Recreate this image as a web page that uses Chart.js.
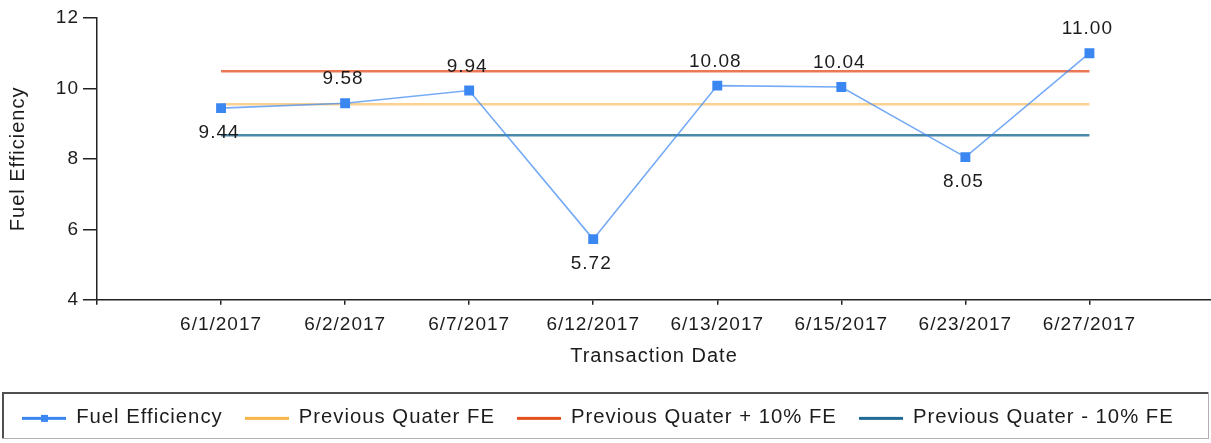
<!DOCTYPE html>
<html>
<head>
<meta charset="utf-8">
<script src="https://cdn.jsdelivr.net/npm/chart.js@4"></script>
<style>
  html, body { margin: 0; padding: 0; background: #fff; }
  #wrap { width: 1211px; height: 443px; position: relative; }
</style>
</head>
<body>
<div id="wrap"><canvas id="chart"></canvas></div>
<script>
const dates = ['6/1/2017', '6/2/2017', '6/7/2017', '6/12/2017', '6/13/2017', '6/15/2017', '6/23/2017', '6/27/2017']
const fuelEfficiency = [9.44, 9.58, 9.94, 5.72, 10.08, 10.04, 8.05, 11.00]
const prevQuarterFE = 9.55
const prevQuarterPlus10 = 10.49
const prevQuarterMinus10 = 8.67
const yTicks = [4, 6, 8, 10, 12]

const FONT = 'Arial, "Liberation Sans", sans-serif'
const TEXT = '#1c1c1c'

const colors = {
  fe: '#3b87f2',
  prev: '#f8b548',
  plus: '#e2501f',
  minus: '#1f6b95'
}

// legend swatches: line, and the blue one with its square marker
function swatch(color, marker) {
  let c = document.createElement('canvas')
  c.width = 44
  c.height = 10
  let x = c.getContext('2d')
  x.fillStyle = color
  x.fillRect(0, 4, 44, 3)
  if (marker) x.fillRect(19, 2, 7, 7)
  return c
}
const swatches = [swatch(colors.fe, true), swatch(colors.prev), swatch(colors.plus), swatch(colors.minus)]

const flat = v => dates.map((d, i) => ({ x: i + 1, y: v }))

const spacing = {
  id: 'spacing',
  beforeUpdate(chart) { chart.ctx.letterSpacing = '1px' },
  beforeDraw(chart) { chart.ctx.letterSpacing = '1px' }
}

const valueLabels = {
  id: 'valueLabels',
  afterDatasetsDraw(chart) {
    let ctx = chart.ctx
    let meta = chart.getDatasetMeta(0)
    ctx.save()
    ctx.font = '19px ' + FONT
    ctx.fillStyle = TEXT
    ctx.textAlign = 'center'
    ctx.textBaseline = 'middle'
    meta.data.forEach((pt, i) => {
      let v = fuelEfficiency[i]
      let below = v < prevQuarterFE
      ctx.fillText(v.toFixed(2), pt.x - 2, pt.y + (below ? 25 : -24))
    })
    ctx.restore()
  }
}

const legendBox = {
  id: 'legendBox',
  afterDraw(chart) {
    let ctx = chart.ctx
    let top = chart.height - 51, bottom = chart.height - 5
    let left = 2, right = chart.width - 3
    ctx.save()
    ctx.strokeStyle = '#b0b0b0'
    ctx.lineWidth = 1
    ctx.strokeRect(left + 0.5, top + 0.5, right - left, bottom - top)
    ctx.strokeStyle = '#505050'
    ctx.lineWidth = 2
    ctx.beginPath()
    ctx.moveTo(left + 1, bottom)
    ctx.lineTo(left + 1, top + 1)
    ctx.lineTo(right, top + 1)
    ctx.stroke()
    ctx.restore()
  }
}

new Chart(document.getElementById('chart'), {
  type: 'line',
  data: {
    datasets: [
      {
        label: 'Fuel Efficiency',
        data: fuelEfficiency.map((y, i) => ({ x: i + 1, y })),
        borderColor: 'rgba(59,135,242,0.7)',
        backgroundColor: colors.fe,
        borderWidth: 1.6,
        pointStyle: 'rect',
        pointRadius: 7,
        pointBorderWidth: 0,
        pointBackgroundColor: colors.fe,
        tension: 0
      },
      {
        label: 'Previous Quater FE',
        data: flat(prevQuarterFE),
        borderColor: 'rgba(250,190,100,0.7)',
        borderWidth: 2.5,
        pointRadius: 0
      },
      {
        label: 'Previous Quater + 10% FE',
        data: flat(prevQuarterPlus10),
        borderColor: 'rgba(232,95,55,0.85)',
        borderWidth: 2.5,
        pointRadius: 0
      },
      {
        label: 'Previous Quater - 10% FE',
        data: flat(prevQuarterMinus10),
        borderColor: 'rgba(40,115,155,0.85)',
        borderWidth: 2.5,
        pointRadius: 0
      }
    ]
  },
  options: {
    responsive: true,
    maintainAspectRatio: false,
    animation: false,
    layout: { autoPadding: false, padding: { top: 18, left: 0, right: 0, bottom: 5 } },
    plugins: {
      tooltip: { enabled: false },
      legend: {
        position: 'bottom',
        align: 'start',
        labels: {
          usePointStyle: true,
          pointStyleWidth: 44,
          padding: 22,
          color: TEXT,
          font: { family: FONT, size: 20.3 },
          generateLabels(chart) {
            let items = Chart.defaults.plugins.legend.labels.generateLabels(chart)
            items.forEach((it, i) => { it.pointStyle = swatches[i] })
            return items
          }
        }
      }
    },
    scales: {
      x: {
        type: 'linear',
        min: 0,
        max: 8.98,
        afterFit(s) { s.height = 86 },
        afterBuildTicks(s) { s.ticks = [0, 1, 2, 3, 4, 5, 6, 7, 8].map(v => ({ value: v })) },
        ticks: {
          autoSkip: false,
          maxRotation: 0,
          padding: 9,
          color: TEXT,
          font: { family: FONT, size: 19 },
          callback: v => dates[v - 1] || ''
        },
        grid: { drawOnChartArea: false, color: '#222', tickLength: 5, lineWidth: 1.5 },
        border: { color: '#222', width: 1.5 },
        title: {
          display: true,
          text: 'Transaction Date',
          color: TEXT,
          font: { family: FONT, size: 20 },
          padding: { top: 4, bottom: 17 }
        }
      },
      y: {
        min: 4,
        max: 12,
        afterFit(s) { s.width = 97 },
        afterBuildTicks(s) { s.ticks = yTicks.map(v => ({ value: v })) },
        ticks: {
          padding: 4,
          color: TEXT,
          font: { family: FONT, size: 19 }
        },
        grid: { drawOnChartArea: false, color: '#222', tickLength: 14, lineWidth: 1.5 },
        border: { color: '#222', width: 1.5 },
        title: {
          display: true,
          text: 'Fuel Efficiency',
          color: TEXT,
          font: { family: FONT, size: 20 },
          padding: { top: 6, bottom: 0 }
        }
      }
    }
  },
  plugins: [spacing, valueLabels, legendBox]
})
</script>
</body>
</html>
